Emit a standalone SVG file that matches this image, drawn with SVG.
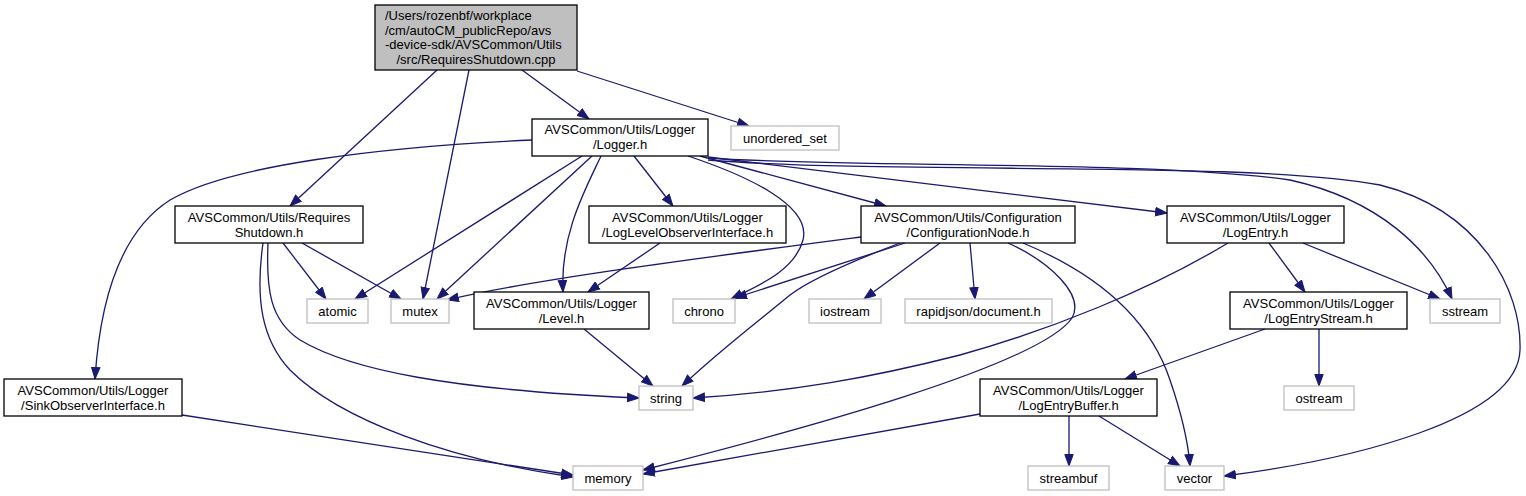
<svg xmlns="http://www.w3.org/2000/svg" width="1526" height="496" viewBox="0 0 1526 496">
<style>
text{font-family:"Liberation Sans",Arial,Helvetica,sans-serif;font-size:13px;fill:#000;text-anchor:middle}
.nb{fill:#fff;stroke:#000;stroke-width:1.3}
.ng{fill:#fff;stroke:#bfbfbf;stroke-width:1.3}
.nt{fill:#bfbfbf;stroke:#000;stroke-width:1.3}
.e{fill:none;stroke:#191970;stroke-width:1.3;marker-end:url(#a)}
</style>
<defs>
<marker id="a" markerUnits="userSpaceOnUse" markerWidth="13" markerHeight="10" refX="12" refY="5" orient="auto" viewBox="0 0 13 10">
<path d="M0.5,0.8 L12,5 L0.5,9.2 z" fill="#191970" stroke="#191970" stroke-width="1"/>
</marker>
</defs>
<g id="edges">
<path class="e" d="M437,70 L290,206"/>
<path class="e" d="M469,70 L423,299"/>
<path class="e" d="M522,70 L589,119"/>
<path class="e" d="M577,71 L749,126"/>
<path class="e" d="M532,140 C380,147 230,165 170,200 C120,232 100,300 95,379"/>
<path class="e" d="M582,156 L355,299"/>
<path class="e" d="M592,156 L437,299"/>
<path class="e" d="M601,156 C585,190 560,235 563,292"/>
<path class="e" d="M634,156 L673,206"/>
<path class="e" d="M688,156 C745,175 812,205 803,240 C795,270 760,285 731,299"/>
<path class="e" d="M700,156 L886,206"/>
<path class="e" d="M708,157 L1167,213"/>
<path class="e" d="M708,158 C850,168 1150,160 1290,180 C1380,200 1430,250 1452,299"/>
<path class="e" d="M708,160 C900,175 1250,160 1380,185 C1480,210 1522,290 1520,350 C1518,420 1350,460 1224,476"/>
<path class="e" d="M283,243 L326,299"/>
<path class="e" d="M302,243 L401,299"/>
<path class="e" d="M268,243 C266,290 270,320 300,340 C350,370 450,390 639,398"/>
<path class="e" d="M263,243 C255,300 262,340 290,370 C340,420 450,460 573,477"/>
<path class="e" d="M182,415 L573,475"/>
<path class="e" d="M660,243 L588,292"/>
<path class="e" d="M584,329 L653,386"/>
<path class="e" d="M861,237 C700,258 530,280 447,300"/>
<path class="e" d="M905,243 L735,298"/>
<path class="e" d="M900,243 C850,262 810,280 790,295 C760,320 720,350 682,386"/>
<path class="e" d="M940,243 L864,299"/>
<path class="e" d="M970,243 L975,299"/>
<path class="e" d="M1008,243 C1050,262 1085,295 1072,318 C1040,365 800,430 643,470"/>
<path class="e" d="M1023,243 C1100,275 1150,320 1170,380 C1182,415 1188,440 1190,466"/>
<path class="e" d="M1228,243 C1150,290 1050,330 960,355 C870,378 790,392 693,398"/>
<path class="e" d="M1269,243 L1305,292"/>
<path class="e" d="M1303,243 L1440,299"/>
<path class="e" d="M1265,329 L1125,379"/>
<path class="e" d="M1319,329 L1319,386"/>
<path class="e" d="M1069,416 L1069,466"/>
<path class="e" d="M1099,416 L1180,466"/>
<path class="e" d="M980,414 L643,474"/>
</g>
<g id="n_top"><rect class="nt" x="375" y="5" width="202" height="65"/>
<text x="385" y="20" style="text-anchor:start">/Users/rozenbf/workplace</text>
<text x="385" y="34.5" style="text-anchor:start">/cm/autoCM_publicRepo/avs</text>
<text x="385" y="49" style="text-anchor:start">-device-sdk/AVSCommon/Utils</text>
<text x="476" y="63.5">/src/RequiresShutdown.cpp</text></g>
<g id="n_logger"><rect class="nb" x="532" y="119" width="176" height="37"/><text x="620" y="134">AVSCommon/Utils/Logger</text><text x="620" y="149">/Logger.h</text></g>
<g id="n_unordered_set"><rect class="ng" x="731" y="126" width="108" height="24"/><text x="785" y="142.5">unordered_set</text></g>
<g id="n_requiresshutdown"><rect class="nb" x="175" y="206" width="188" height="37"/><text x="269" y="222">AVSCommon/Utils/Requires</text><text x="269" y="236.5">Shutdown.h</text></g>
<g id="n_loglevelobserver"><rect class="nb" x="589" y="206" width="197" height="37"/><text x="687.5" y="222">AVSCommon/Utils/Logger</text><text x="687.5" y="236.5">/LogLevelObserverInterface.h</text></g>
<g id="n_configurationnode"><rect class="nb" x="861" y="206" width="214" height="37"/><text x="968" y="222">AVSCommon/Utils/Configuration</text><text x="968" y="236.5">/ConfigurationNode.h</text></g>
<g id="n_logentry"><rect class="nb" x="1167" y="206" width="177" height="37"/><text x="1255.5" y="222">AVSCommon/Utils/Logger</text><text x="1255.5" y="236.5">/LogEntry.h</text></g>
<g id="n_atomic"><rect class="ng" x="307" y="299" width="61" height="24"/><text x="337.5" y="315.5">atomic</text></g>
<g id="n_mutex"><rect class="ng" x="391" y="299" width="58" height="24"/><text x="420" y="315.5">mutex</text></g>
<g id="n_level"><rect class="nb" x="474" y="292" width="175" height="37"/><text x="561.5" y="308">AVSCommon/Utils/Logger</text><text x="561.5" y="322.5">/Level.h</text></g>
<g id="n_chrono"><rect class="ng" x="673" y="299" width="62" height="24"/><text x="704" y="315.5">chrono</text></g>
<g id="n_iostream"><rect class="ng" x="809" y="299" width="72" height="24"/><text x="845" y="315.5">iostream</text></g>
<g id="n_rapidjson"><rect class="ng" x="905" y="299" width="147" height="24"/><text x="978.5" y="315.5">rapidjson/document.h</text></g>
<g id="n_logentrystream"><rect class="nb" x="1230" y="292" width="177" height="37"/><text x="1318.5" y="308">AVSCommon/Utils/Logger</text><text x="1318.5" y="322.5">/LogEntryStream.h</text></g>
<g id="n_sstream"><rect class="ng" x="1430" y="299" width="70" height="24"/><text x="1465" y="315.5">sstream</text></g>
<g id="n_sinkobserver"><rect class="nb" x="4" y="379" width="178" height="37"/><text x="93" y="395">AVSCommon/Utils/Logger</text><text x="93" y="409.5">/SinkObserverInterface.h</text></g>
<g id="n_string"><rect class="ng" x="639" y="386" width="54" height="24"/><text x="666" y="402.5">string</text></g>
<g id="n_logentrybuffer"><rect class="nb" x="980" y="379" width="177" height="37"/><text x="1068.5" y="395">AVSCommon/Utils/Logger</text><text x="1068.5" y="409.5">/LogEntryBuffer.h</text></g>
<g id="n_ostream"><rect class="ng" x="1284" y="386" width="70" height="24"/><text x="1319" y="402.5">ostream</text></g>
<g id="n_memory"><rect class="ng" x="573" y="466" width="70" height="24"/><text x="608" y="482.5">memory</text></g>
<g id="n_streambuf"><rect class="ng" x="1028" y="466" width="81" height="24"/><text x="1068.5" y="482.5">streambuf</text></g>
<g id="n_vector"><rect class="ng" x="1165" y="466" width="59" height="24"/><text x="1194.5" y="482.5">vector</text></g>
</svg>
